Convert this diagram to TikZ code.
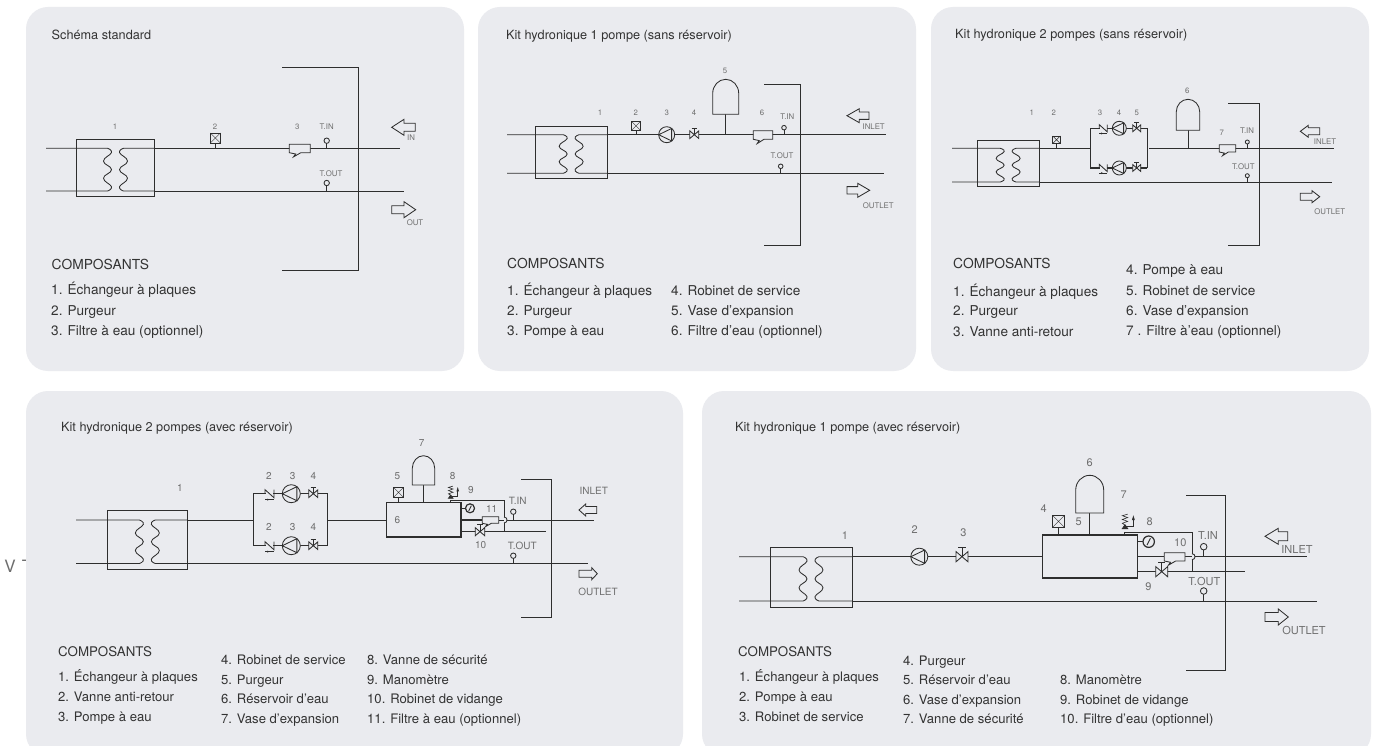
\documentclass[tikz,border=0pt]{standalone}
\usepackage{fontspec}
\setmainfont{TeX Gyre Heros}
\definecolor{panel}{HTML}{EAEBEF}
\definecolor{ink}{HTML}{2E2E2E}
\definecolor{soft}{HTML}{6E6E6E}
\definecolor{txt}{HTML}{333333}
\newcounter{lb}
\newcommand{\tx}[4]{\stepcounter{lb}\node[#1] (t\arabic{lb}) at (#2,#3) {#4};}
% heat exchanger: x1 x2 y1 y2 ytop ybot xleft
\newcommand{\hxer}[7]{%
 \pgfmathsetmacro{\cx}{(#1+#2)/2}\pgfmathsetmacro{\hgt}{#6-#5}
 \draw[pipe,fill=panel] (#1,#3) rectangle (#2,#4);
 \draw[pipe] (#7,#5) -- ({\cx-8},#5) plot[smooth,tension=.8] coordinates {({\cx-8},#5) ({\cx-4},{#5+.1*\hgt}) ({\cx-12},{#5+.3*\hgt}) ({\cx-4},{#5+.5*\hgt}) ({\cx-12},{#5+.7*\hgt}) ({\cx-4},{#5+.9*\hgt}) ({\cx-8},#6)} -- (#7,#6);
 \draw[pipe] (#2,#5) -- ({\cx+8},#5) plot[smooth,tension=.8] coordinates {({\cx+8},#5) ({\cx+4},{#5+.1*\hgt}) ({\cx+12},{#5+.3*\hgt}) ({\cx+4},{#5+.5*\hgt}) ({\cx+12},{#5+.7*\hgt}) ({\cx+4},{#5+.9*\hgt}) ({\cx+8},#6)} -- (#2,#6);
}
% vent: cx ytop size yend
\newcommand{\vent}[4]{%
 \draw[pipe] (#1,{#2+#3}) -- (#1,#4);
 \draw[pipe,fill=panel] ({#1-#3/2},#2) rectangle ({#1+#3/2},{#2+#3});
 \draw[thin,ink] ({#1-#3/2},#2) -- ({#1+#3/2},{#2+#3}) ({#1+#3/2},#2) -- ({#1-#3/2},{#2+#3});
}
% pump: x y r
\newcommand{\pump}[3]{%
 \draw[pipe,fill=panel] (#1,#2) circle (#3pt);
 \draw[pipe] ({#1+.62*#3},{#2-.78*#3}) -- ({#1-#3},#2) -- ({#1+.62*#3},{#2+.78*#3}) -- cycle;
}
% valve: x y halfwidth
\newcommand{\valve}[3]{%
 \draw[pipe,fill=panel] ({#1-#3},{#2-.85*#3}) -- ({#1+#3},{#2+.85*#3}) -- ({#1+#3},{#2-.85*#3}) -- ({#1-#3},{#2+.85*#3}) -- cycle;
 \draw[pipe] (#1,#2) -- (#1,{#2-1.5*#3}) ({#1-.6*#3},{#2-1.5*#3}) -- ({#1+.6*#3},{#2-1.5*#3});
}
% check valve: x y halfwidth
\newcommand{\chkv}[3]{%
 \fill[panel] ({#1-#3+.6},{#2-1.2}) rectangle ({#1+#3-.6},{#2+1.2});
 \draw[pipe] (#1-#3,#2) -- ({#1-#3},{#2-#3*.9}) -- ({#1+#3},{#2+#3*.9}) -- ({#1+#3},{#2-#3*.9});
 \draw[pipe] ({#1-#3},{#2+#3*1.3}) -- ({#1+#3},{#2+#3*1.3});
 \fill[ink] ({#1-.4*#3},{#2+#3*1.3}) circle (1pt);
}
% filter: x1 y1 x2 y2
\newcommand{\filt}[4]{%
 \pgfmathsetmacro{\fw}{#3-#1}\pgfmathsetmacro{\fh}{#4-#2}
 \draw[pipe,fill=panel] (#1,#2) -- (#3,#2) -- (#3,#4) -- ({#1+.55*\fw},#4) -- ({#1+.2*\fw},{#4+.5*\fh}) -- ({#1+.3*\fw},{#4+.15*\fh}) -- (#1,#4) -- cycle;
}
% sensor: x yc r ypipe
\newcommand{\sensor}[4]{%
 \draw[pipe] (#1,{#2+#3}) -- (#1,#4);
 \draw[pipe,fill=panel] (#1,#2) circle (#3pt);
}
% bracket: x1 x2 y1 y2
\newcommand{\brk}[4]{\draw[pipe] (#1,#3) -- (#2,#3) -- (#2,#4) -- (#1,#4);}
% vessel: xl xr ytop yshoulder ybottom yend
\newcommand{\vessel}[6]{%
 \pgfmathsetmacro{\vc}{(#1+#2)/2}\pgfmathsetmacro{\vw}{(#2-#1)/2}\pgfmathsetmacro{\vd}{#4-#3}
 \draw[pipe] (\vc,#5) -- (\vc,#6);
 \draw[pipe,fill=panel] (#1,#5) -- (#1,#4) .. controls (#1,{#4-.55*\vd}) and ({\vc-.55*\vw},#3) .. (\vc,#3) .. controls ({\vc+.55*\vw},#3) and (#2,{#4-.55*\vd}) .. (#2,#4) -- (#2,#5) -- cycle;
}
% outline arrows: tip x, base x, tail x, y, hh, sh
\newcommand{\arrL}[6]{\draw[pipe,fill=panel] (#1,#4) -- (#2,{#4-#5}) -- (#2,{#4-#6}) -- (#3,{#4-#6}) -- (#3,{#4+#6}) -- (#2,{#4+#6}) -- (#2,{#4+#5}) -- cycle;}
% gauge: x y r xstem
\newcommand{\gauge}[4]{%
 \draw[pipe] (#4,#2) -- ({#1-#3},#2);
 \draw[pipe,line width=1.2pt,fill=panel] (#1,#2) circle (#3pt);
 \draw[pipe] ({#1-.3*#3},{#2+.6*#3}) -- ({#1+.3*#3},{#2-.6*#3});
}
% safety valve: x ybody s
\newcommand{\safety}[3]{%
 \draw[pipe,line width=.6pt] (#1,{#2-.4*#3}) -- ({#1-.7*#3},{#2-#3*.9}) -- ({#1+.7*#3},{#2-#3*1.4}) -- ({#1-.7*#3},{#2-#3*1.9}) -- ({#1+.7*#3},{#2-#3*2.4}) -- ({#1-.7*#3},{#2-#3*2.9}) -- ({#1+.7*#3},{#2-#3*3.3});
 \draw[pipe,fill=ink] ({#1-.7*#3},{#2+.5*#3}) -- (#1,{#2-.5*#3}) -- ({#1+.7*#3},{#2+.5*#3}) -- cycle;
 \draw[pipe] ({#1+.3*#3},#2) -- ({#1+2.2*#3},#2) -- ({#1+2.2*#3},{#2-2*#3});
 \fill[ink] ({#1+1.8*#3},{#2-1.7*#3}) -- ({#1+2.2*#3},{#2-3*#3}) -- ({#1+2.6*#3},{#2-1.7*#3}) -- cycle;
}
% jump: x y
\newcommand{\jump}[2]{\draw[pipe] (#1,{#2-3}) .. controls ({#1+4},{#2-3}) and ({#1+4},{#2+3}) .. (#1,{#2+3});}
\tikzset{
 pipe/.style={draw=ink,line width=.85pt,line join=miter},
 heavy/.style={draw=ink,line width=1.4pt},
 ttl/.style={anchor=base west,font=\fontsize{12.7}{13}\selectfont,text=txt,inner sep=0pt},
 hd/.style={anchor=base west,font=\fontsize{13.8}{14}\selectfont,text=txt,inner sep=0pt},
 li/.style={anchor=base west,font=\fontsize{13.6}{14}\selectfont,text=txt,inner sep=0pt},
 hdb/.style={anchor=base west,font=\fontsize{13.3}{14}\selectfont,text=txt,inner sep=0pt},
 lib/.style={anchor=base west,font=\fontsize{13.1}{14}\selectfont,text=txt,inner sep=0pt},
 sm/.style={font=\fontsize{7.8}{8}\selectfont,text=soft,inner sep=0pt},
 md/.style={font=\fontsize{10}{10}\selectfont,text=soft,inner sep=0pt},
 lg/.style={font=\fontsize{11}{11}\selectfont,text=soft,inner sep=0pt},
}
\begin{document}
\begin{tikzpicture}[x=1pt,y=-1pt]
\useasboundingbox (0,0) rectangle (1382,746);
\clip (0,0) rectangle (1382,746);
\fill[white] (0,0) rectangle (1382,746);
\tx{font=\fontsize{17}{17}\selectfont,text=soft,inner sep=0pt}{10}{566}{V}
\tx{font=\fontsize{17}{17}\selectfont,text=soft,inner sep=0pt}{27}{566}{T}
\foreach \a/\b/\c/\d in {26/7/464/371,478/7/916/371,931/7/1369/371,26/391/683/756,702/391/1371/756}
  \fill[panel,rounded corners=22pt] (\a,\b) rectangle (\c,\d);

% ===== Panel 1
\draw[pipe] (154.7,148.3) -- (400,148.3) (154.7,191) -- (404,191);
\brk{282.3}{358.3}{67.3}{270.3}
\hxer{76.3}{154.7}{139}{196.7}{148.3}{191}{46}
\vent{215.3}{133}{10}{148.3}
\filt{289.3}{144.3}{310.3}{152.7}
\sensor{326.7}{140.7}{2.7}{148.3}
\sensor{326.7}{183}{2.7}{191}
\arrL{391.7}{404}{415.3}{127.3}{8}{4}
\arrL{415.7}{404}{391.7}{209.7}{8}{4}
\tx{sm}{115}{126.7}{1}\tx{sm}{215}{126.7}{2}\tx{sm}{297.3}{126.7}{3}
\tx{sm}{326.7}{126.7}{T.IN}\tx{sm}{331}{174}{T.OUT}\tx{sm}{411}{138}{IN}\tx{sm}{415}{222.3}{OUT}
\tx{ttl}{51.5}{39.3}{Schéma standard}
\tx{hd}{51.5}{269.5}{COMPOSANTS}
\tx{li}{51}{294.5}{1. Échangeur à plaques}
\tx{li}{51}{315}{2. Purgeur}
\tx{li}{51}{335.5}{3. Filtre à eau (optionnel)}

% ===== Panel 2
\draw[pipe] (607.3,134.7) -- (886,134.7) (607.3,173.3) -- (883.7,173.3);
\brk{764}{800.7}{84}{245.3}
\hxer{535}{607.3}{126.3}{178.7}{134.7}{173.3}{507}
\vent{636}{121.7}{8.5}{134.7}
\pump{666.7}{134.7}{8}
\valve{694.3}{134.7}{4.5}
\vessel{712.7}{738.7}{79.3}{93.3}{114.3}{134.7}
\filt{753.3}{130.7}{772.7}{139.3}
\sensor{784}{127.7}{2.3}{134.7}
\sensor{780.7}{166.3}{2.3}{173.3}
\arrL{847}{859.3}{869}{115.7}{7}{3.7}
\arrL{869.7}{857.7}{847}{190.3}{7}{3.7}
\tx{sm}{600}{112.7}{1}\tx{sm}{635.7}{112.7}{2}\tx{sm}{666.7}{112.7}{3}\tx{sm}{694}{112.7}{4}
\tx{sm}{725}{70.7}{5}\tx{sm}{762}{112.7}{6}
\tx{sm}{787.3}{116.7}{T.IN}\tx{sm}{782}{155.7}{T.OUT}\tx{sm}{873.7}{126.7}{INLET}\tx{sm}{878.3}{205.7}{OUTLET}
\tx{ttl}{506}{39.3}{Kit hydronique 1 pompe (sans réservoir)}
\tx{hd}{507}{268.5}{COMPOSANTS}
\tx{li}{507}{295}{1. Échangeur à plaques}
\tx{li}{507}{315}{2. Purgeur}
\tx{li}{507}{335}{3. Pompe à eau}
\tx{li}{671}{295}{4. Robinet de service}
\tx{li}{671}{315}{5. Vase d'expansion}
\tx{li}{671}{335}{6. Filtre d'eau (optionnel)}

% ===== Panel 3
\draw[pipe] (1039.3,148.3) -- (1090.3,148.3) (1149,148.3) -- (1334.3,148.3) (1039.3,182) -- (1331.7,182);
\draw[heavy] (1090.3,128.3) -- (1147.3,128.3) (1090.3,168) -- (1147.3,168);
\draw[pipe] (1090.3,128.3) -- (1090.3,168);
\draw[heavy] (1147.3,128.3) -- (1147.3,168);
\brk{1228.3}{1259.7}{103.3}{245}
\hxer{977}{1039.3}{140.7}{186.7}{148.3}{182}{952}
\vent{1056.5}{136}{7.5}{148.3}
\chkv{1103.3}{128.3}{4}\chkv{1103.3}{168}{4}
\pump{1119.3}{128.3}{7}\pump{1119.3}{168}{7}
\valve{1136.7}{128.3}{4}\valve{1136.7}{168}{4}
\vessel{1176.3}{1199.7}{99.3}{111.7}{130.3}{148.3}
\filt{1219.3}{144.7}{1235.7}{152}
\sensor{1247.3}{142}{2}{148.3}
\sensor{1247.3}{175.7}{2}{182}
\arrL{1300.3}{1308.3}{1319.7}{131.3}{6}{3.5}
\arrL{1319.7}{1312}{1300.3}{196.7}{6}{3.5}
\tx{sm}{1031.7}{112.7}{1}\tx{sm}{1053.7}{112.7}{2}\tx{sm}{1100}{112.7}{3}\tx{sm}{1119}{112.7}{4}\tx{sm}{1136.7}{112.7}{5}
\tx{sm}{1187.3}{90.7}{6}\tx{sm}{1221.7}{133}{7}
\tx{sm}{1247}{130.3}{T.IN}\tx{sm}{1243.3}{167}{T.OUT}\tx{sm}{1325}{141.7}{INLET}\tx{sm}{1329.7}{211.7}{OUTLET}
\tx{ttl}{955}{38.3}{Kit hydronique 2 pompes (sans réservoir)}
\tx{hd}{953}{268.5}{COMPOSANTS}
\tx{li}{953}{296}{1. Échangeur à plaques}
\tx{li}{953}{316}{2. Purgeur}
\tx{li}{953}{336}{3. Vanne anti-retour}
\tx{li}{1126}{275}{4. Pompe à eau}
\tx{li}{1126}{295}{5. Robinet de service}
\tx{li}{1126}{315}{6. Vase d'expansion}
\tx{li}{1126}{335}{7 . Filtre à'eau (optionnel)}

% ===== Panel 4
\draw[pipe] (187.7,520) -- (253.7,520) (327.3,520) -- (386.3,520) (187.7,563.5) -- (587.7,563.5);
\draw[pipe] (507,520) -- (594.3,520);
\draw[heavy] (253.7,493.7) -- (327.3,493.7) -- (327.3,545.7) -- (253.7,545.7) -- cycle;
\draw[pipe] (450.7,502.3) -- (450.7,500.7) -- (504,500.7) -- (504,517) (504,523) -- (504,531.7);
\draw[heavy] (461,520) -- (482.3,520) (461,531.7) -- (480,531.7);
\draw[pipe] (498.7,520) -- (504,520) (480,531.7) -- (546,531.7);
\jump{504}{520}
\brk{521}{551.7}{479.3}{617}
\hxer{107}{187.7}{510.3}{569.7}{520}{563.5}{76}
\chkv{269.5}{493.7}{4.5}\chkv{269.5}{545.7}{4.5}
\pump{291.3}{493.7}{9}\pump{291.3}{545.7}{9}
\valve{313.3}{493.7}{4.5}\valve{313.3}{545.7}{4.5}
\vessel{412.3}{434.7}{455.7}{468.3}{485}{502.3}
\draw[heavy,line width=1.1pt,fill=panel] (386.3,502.3) rectangle (461,537);
\vent{398.5}{487.3}{10}{502.3}
\safety{450.7}{496.7}{3.2}
\gauge{470}{508.3}{4.5}{461}
\valve{480}{531.7}{4.7}
\filt{482.3}{516.7}{498.7}{523.3}
\sensor{513.3}{511.7}{2.7}{520}
\sensor{513.3}{555.7}{2.7}{563.5}
\arrL{579}{585.7}{596.7}{510}{6}{3.5}
\arrL{597.3}{591.7}{579}{573.7}{6}{3.5}
\tx{md}{180}{488}{1}
\tx{md}{269}{476.3}{2}\tx{md}{292.7}{476.3}{3}\tx{md}{313.3}{476.3}{4}
\tx{md}{269}{527}{2}\tx{md}{292.7}{527}{3}\tx{md}{313.3}{527}{4}
\tx{md}{397.3}{476.3}{5}\tx{md}{397.3}{520.3}{6}\tx{md}{421.7}{443.3}{7}\tx{md}{452.7}{476.3}{8}\tx{md}{471}{489.7}{9}
\tx{md}{491.7}{508.7}{11}\tx{md}{480.7}{545}{10}
\tx{md}{517.7}{501.3}{T.IN}\tx{md}{522.3}{545.7}{T.OUT}\tx{md}{593.7}{491}{INLET}\tx{md}{598}{592}{OUTLET}
\tx{ttl}{61}{431}{Kit hydronique 2 pompes (avec réservoir)}
\tx{hdb}{58}{656.5}{COMPOSANTS}
\tx{lib}{58}{681}{1. Échangeur à plaques}
\tx{lib}{58}{701}{2. Vanne anti-retour}
\tx{lib}{58}{721}{3. Pompe à eau}
\tx{lib}{221}{664}{4. Robinet de service}
\tx{lib}{221}{684}{5. Purgeur}
\tx{lib}{221}{703}{6. Réservoir d'eau}
\tx{lib}{221}{723}{7. Vase d'expansion}
\tx{lib}{367}{664}{8. Vanne de sécurité}
\tx{lib}{367}{684}{9. Manomètre}
\tx{lib}{367}{703}{10. Robinet de vidange}
\tx{lib}{367}{723}{11. Filtre à eau (optionnel)}

% ===== Panel 5
\draw[pipe] (852,556.7) -- (1042.3,556.7) (852,601) -- (1316.7,601);
\draw[pipe] (1137.7,556.7) -- (1164.3,556.7) (1185,556.7) -- (1192,556.7) (1195,556.7) -- (1306.7,556.7);
\draw[pipe] (1137.7,571.7) -- (1245.3,571.7);
\draw[pipe] (1124,535) -- (1124,532) -- (1192,532) -- (1192,553.7) (1192,559.7) -- (1192,571.7);
\jump{1192}{556.7}
\brk{1186.3}{1225}{495.7}{670}
\hxer{770}{852}{547.3}{607.3}{556.7}{601}{739}
\pump{919.3}{556.7}{8.5}
\valve{962}{556.7}{6}
\vessel{1075.7}{1103.7}{475.3}{490}{513}{535}
\draw[pipe,line width=1.1pt,fill=panel] (1042.3,535) rectangle (1137.7,578);
\vent{1058.5}{515.3}{12}{535}
\safety{1125}{526.7}{3.8}
\gauge{1148.7}{541.7}{5.7}{1137.7}
\valve{1161.7}{571.7}{6}
\filt{1164.3}{552.7}{1185}{561}
\sensor{1203.7}{546.7}{3.3}{556.7}
\sensor{1203.7}{591}{3.3}{601}
\arrL{1265}{1278.3}{1287.7}{536.3}{8}{4.5}
\arrL{1288.3}{1278.3}{1265}{617}{8}{4.5}
\tx{lg}{845}{536}{1}\tx{lg}{914.7}{530}{2}\tx{lg}{963.3}{532.7}{3}\tx{lg}{1043.7}{508.7}{4}\tx{lg}{1078.7}{521.7}{5}
\tx{lg}{1089.7}{462.7}{6}\tx{lg}{1123.7}{494.7}{7}\tx{lg}{1149.7}{521.3}{8}\tx{lg}{1180.3}{542.3}{10}\tx{lg}{1148.3}{586.7}{9}
\tx{lg}{1208}{535}{T.IN}\tx{lg}{1204.3}{581}{T.OUT}\tx{lg}{1297}{549.3}{INLET}\tx{lg}{1304}{630.3}{OUTLET}
\tx{ttl}{735}{431}{Kit hydronique 1 pompe (avec réservoir)}
\tx{hdb}{738}{656.5}{COMPOSANTS}
\tx{lib}{739}{681}{1. Échangeur à plaques}
\tx{lib}{739}{701}{2. Pompe à eau}
\tx{lib}{739}{721}{3. Robinet de service}
\tx{lib}{903}{665}{4. Purgeur}
\tx{lib}{903}{684.5}{5. Réservoir d'eau}
\tx{lib}{903}{704.5}{6. Vase d'expansion}
\tx{lib}{903}{723.5}{7. Vanne de sécurité}
\tx{lib}{1060}{684.5}{8. Manomètre}
\tx{lib}{1060}{704.5}{9. Robinet de vidange}
\tx{lib}{1060}{723.5}{10. Filtre d'eau (optionnel)}
\end{tikzpicture}
\end{document}
